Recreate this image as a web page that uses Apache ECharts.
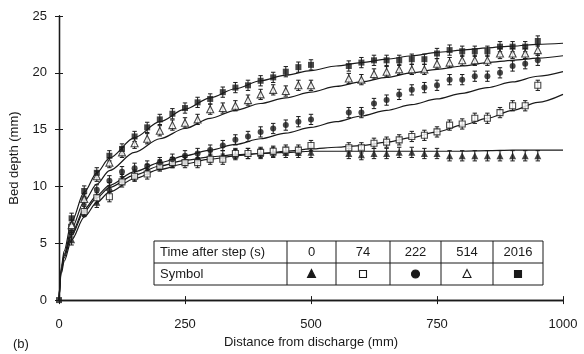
<!DOCTYPE html>
<html><head><meta charset="utf-8">
<script src="https://cdn.jsdelivr.net/npm/echarts@6/dist/echarts.min.js"></script>
<style>html,body{margin:0;padding:0;background:#fff}#c{width:584px;height:354px}</style>
</head><body><div id="c"></div>
<script>
const xTicks = [0, 250, 500, 750, 1000];
const yTicks = [0, 5, 10, 15, 20, 25];
const distances = [25,50,75,100,125,150,175,200,225,250,275,300,325,350,375,400,425,450,475,500,575,600,625,650,675,700,725,750,775,800,825,850,875,900,925,950];
const depth0    = [5.3,7.9,8.6,9.9,10.6,11.0,11.5,11.9,12.1,12.3,12.5,12.6,12.7,12.8,12.9,12.9,13.0,13.0,13.0,13.0,12.9,12.8,12.9,12.9,13.0,13.0,12.9,12.9,12.7,12.7,12.7,12.7,12.7,12.7,12.7,12.7];
const depth74   = [6.4,7.8,9.0,9.1,10.4,10.9,11.1,11.8,12.1,12.1,12.1,12.4,12.4,12.9,12.9,13.0,13.1,13.2,13.2,13.6,13.4,13.4,13.8,13.9,14.1,14.4,14.5,14.8,15.4,15.5,16.0,16.0,16.5,17.1,17.1,18.9];
const depth222  = [6.0,8.9,9.7,10.5,11.3,11.6,11.8,12.1,12.4,12.7,12.9,13.2,13.6,14.1,14.4,14.8,15.1,15.4,15.7,15.9,16.5,16.5,17.3,17.6,18.1,18.5,18.7,18.9,19.4,19.4,19.7,19.7,20.0,20.6,20.8,21.1];
const depth514  = [6.6,8.9,10.9,12.1,13.0,13.8,14.2,14.9,15.4,15.6,15.9,16.8,16.9,17.1,17.6,18.1,18.5,18.4,18.9,18.9,19.5,19.4,19.9,20.1,20.3,20.3,20.3,20.8,20.9,21.1,21.1,21.1,21.7,21.7,21.7,22.0];
const depth2016 = [7.2,9.6,11.2,12.7,13.3,14.4,15.2,15.9,16.4,16.9,17.4,17.7,18.3,18.7,18.9,19.3,19.6,20.1,20.5,20.7,20.6,20.9,21.1,21.1,21.1,21.2,21.2,21.7,22.0,21.9,21.9,21.9,22.3,22.3,22.3,22.8];
const originPoint = [0, 0];
const errHalf = 0.45;
const fitX    = [0,5,10,25,50,75,100,150,200,250,300,350,400,450,500,550,600,650,700,750,800,850,900,950,1000];
const fit0    = [0,2.6,3.7,5.7,7.8,9.0,9.9,11.0,11.8,12.3,12.6,12.8,12.9,13.0,13.1,13.1,13.1,13.1,13.1,13.1,13.1,13.15,13.2,13.2,13.2];
const fit74   = [0,2.4,3.4,5.3,7.3,8.6,9.5,10.7,11.5,12.0,12.4,12.7,12.9,13.1,13.3,13.45,13.6,13.9,14.3,14.8,15.4,16.0,16.7,17.4,18.1];
const fit222  = [0,2.7,3.9,5.9,8.0,9.2,10.1,11.3,12.1,12.7,13.2,13.7,14.2,14.7,15.2,15.7,16.2,16.7,17.2,17.7,18.2,18.7,19.2,19.7,20.1];
const fit514  = [0,2.8,4.0,6.3,8.7,10.2,11.4,13.0,14.2,15.1,16.0,16.7,17.3,17.8,18.3,18.8,19.2,19.6,20.0,20.3,20.6,20.9,21.1,21.3,21.5];
const fit2016 = [0,3.0,4.3,6.9,9.5,11.2,12.5,14.3,15.7,16.8,17.8,18.6,19.3,19.8,20.2,20.6,20.9,21.2,21.5,21.8,22.0,22.2,22.35,22.5,22.6];
const timeLabels = ['0','74','222','514','2016'];

const FONT = '"Liberation Sans", Arial, sans-serif';
const INK = '#1a1a1a';
const pairs = (xs, ys) => ys.map((v, i) => [xs[i], v]);

const seriesDefs = [
  {name:'0',    data: depth0,    fit: fit0,    symbol:'triangle', open:false, size:7},
  {name:'74',   data: depth74,   fit: fit74,   symbol:'rect',     open:true,  size:6},
  {name:'222',  data: depth222,  fit: fit222,  symbol:'circle',   open:false, size:6},
  {name:'514',  data: depth514,  fit: fit514,  symbol:'triangle', open:true,  size:7},
  {name:'2016', data: depth2016, fit: fit2016, symbol:'rect',     open:false, size:6}
];

const series = [];
seriesDefs.forEach(d => {
  series.push({
    type:'line', data: pairs(fitX, d.fit), smooth: 0.3, smoothMonotone:'x',
    showSymbol:false, silent:true, lineStyle:{color:INK, width:1.2}, z:2
  });
});
seriesDefs.forEach(d => {
  series.push({
    type:'custom', z:3, silent:true,
    data: pairs(distances, d.data),
    renderItem: (params, api) => {
      const x = api.value(0), y = api.value(1);
      const t = api.coord([x, y + errHalf]);
      const b = api.coord([x, y - errHalf]);
      const cap = 2.2;
      const st = {stroke: INK, lineWidth: 1};
      return {type:'group', children:[
        {type:'line', shape:{x1:t[0], y1:t[1], x2:b[0], y2:b[1]}, style:st},
        {type:'line', shape:{x1:t[0]-cap, y1:t[1], x2:t[0]+cap, y2:t[1]}, style:st},
        {type:'line', shape:{x1:b[0]-cap, y1:b[1], x2:b[0]+cap, y2:b[1]}, style:st}
      ]};
    }
  });
});
seriesDefs.forEach(d => {
  const pts = pairs(distances, d.data);
  if (d.name === '2016') pts.unshift(originPoint);
  series.push({
    type:'scatter', z:4, data: pts, symbol: d.symbol, symbolSize: d.size,
    itemStyle: d.open ? {color:'#fff', borderColor:INK, borderWidth:1.1} : {color:INK}
  });
});

// table legend
const tbl = {left:154, right:543, top:241, mid:263, bottom:285, cols:[287,336,390,441,493]};
const graphics = [];
const ln = (x1,y1,x2,y2) => ({type:'line', shape:{x1,y1,x2,y2}, style:{stroke:INK, lineWidth:1}, z:10});
graphics.push({type:'rect', shape:{x:tbl.left, y:tbl.top, width:tbl.right-tbl.left, height:tbl.bottom-tbl.top}, style:{fill:'#fff', stroke:INK, lineWidth:1}, z:9});
graphics.push(ln(tbl.left, tbl.mid, tbl.right, tbl.mid));
tbl.cols.forEach(c => graphics.push(ln(c, tbl.top, c, tbl.bottom)));
graphics.push({type:'text', x:160, y:(tbl.top+tbl.mid)/2, style:{text:'Time after step (s)', font:'13px '+FONT, fill:INK, verticalAlign:'middle'}, z:11});
graphics.push({type:'text', x:160, y:(tbl.mid+tbl.bottom)/2, style:{text:'Symbol', font:'13px '+FONT, fill:INK, verticalAlign:'middle'}, z:11});
const colEdges = tbl.cols.concat([tbl.right]);
timeLabels.forEach((t, i) => {
  const cx = (colEdges[i] + colEdges[i+1]) / 2;
  graphics.push({type:'text', x:cx, y:(tbl.top+tbl.mid)/2, style:{text:t, font:'13px '+FONT, fill:INK, align:'center', verticalAlign:'middle'}, z:11});
  const cy = (tbl.mid+tbl.bottom)/2;
  const d = seriesDefs[i];
  const fill = d.open ? '#fff' : INK;
  const style = {fill, stroke:INK, lineWidth:1.1};
  if (d.symbol === 'rect') graphics.push({type:'rect', shape:{x:cx-3.5, y:cy-3.5, width:7, height:7}, style, z:11});
  else if (d.symbol === 'circle') graphics.push({type:'circle', shape:{cx, cy, r:4}, style, z:11});
  else graphics.push({type:'polygon', shape:{points:[[cx, cy-4.5],[cx+4,cy+3.5],[cx-4,cy+3.5]]}, style, z:11});
});
graphics.push({type:'text', left:13, top:338, style:{text:'(b)', font:'13px '+FONT, fill:INK}, z:11});

const axisLineStyle = {color:INK, width:1.3};
const option = {
  animation:false,
  backgroundColor:'#fff',
  grid:{left:58, right:21, top:16, bottom:53},
  xAxis:[
    {type:'value', min:xTicks[0], max:xTicks[xTicks.length-1], interval:250,
     name:'Distance from discharge (mm)', nameLocation:'middle', nameGap:32,
     nameTextStyle:{fontFamily:FONT, fontSize:13, color:INK},
     axisLine:{show:true, lineStyle:axisLineStyle}, axisTick:{show:true, inside:true, length:4, lineStyle:{color:INK}},
     axisLabel:{fontFamily:FONT, fontSize:13, color:INK, margin:18, formatter: v => String(v)}, splitLine:{show:false}},
    {type:'value', position:'top', min:xTicks[0], max:xTicks[xTicks.length-1], interval:250,
     axisLine:{show:true, lineStyle:axisLineStyle}, axisTick:{show:true, inside:true, length:4, lineStyle:{color:INK}},
     axisLabel:{show:false}, splitLine:{show:false}}
  ],
  yAxis:[
    {type:'value', min:yTicks[0], max:yTicks[yTicks.length-1], interval:5,
     name:'Bed depth (mm)', nameLocation:'middle', nameGap:38,
     nameTextStyle:{fontFamily:FONT, fontSize:13, color:INK},
     axisLine:{show:true, lineStyle:axisLineStyle}, axisTick:{show:true, inside:true, length:4, lineStyle:{color:INK}},
     axisLabel:{fontFamily:FONT, fontSize:13, color:INK, margin:12}, splitLine:{show:false}},
    {type:'value', position:'right', min:yTicks[0], max:yTicks[yTicks.length-1], interval:5,
     axisLine:{show:true, lineStyle:axisLineStyle}, axisTick:{show:true, inside:true, length:4, lineStyle:{color:INK}},
     axisLabel:{show:false}, splitLine:{show:false}}
  ],
  series: series,
  graphic: graphics
};
echarts.init(document.getElementById('c'), null, {renderer:'canvas'}).setOption(option);
</script></body></html>
